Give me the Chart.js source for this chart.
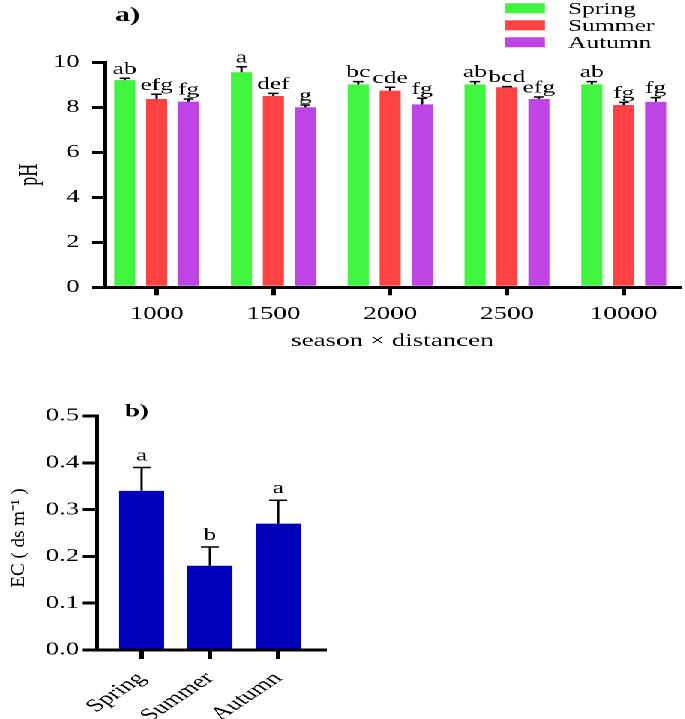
<!DOCTYPE html>
<html>
<head>
<meta charset="utf-8">
<script src="https://cdn.jsdelivr.net/npm/chart.js@4.4.1/dist/chart.umd.min.js"></script>
<style>
html, body { margin: 0; padding: 0; background: #fff; overflow: hidden; }
/* the reference is stretched sideways, so draw narrow and widen it */
#wrap { position: absolute; left: 0; top: 0; width: 457px; height: 719px; transform: scaleX(1.5); transform-origin: 0 0; }
#c1 { position: absolute; left: 0; top: 0; }
#c2 { position: absolute; left: 0; top: 360px; }
</style>
</head>
<body>
<div id="wrap">
  <canvas id="c1" width="457" height="360"></canvas>
  <canvas id="c2" width="230" height="359"></canvas>
</div>
<script>
const STRETCH = 1.5;

// a) pH by season x distance
const distances = ['1000', '1500', '2000', '2500', '10000'];
const phSpring = [9.21, 9.56, 9.02, 9.02, 9.02];
const phSpringErr = [0.08, 0.24, 0.12, 0.12, 0.12];
const phSpringLetters = ['ab', 'a', 'bc', 'ab', 'ab'];
const phSummer = [8.37, 8.50, 8.74, 8.89, 8.10];
const phSummerErr = [0.21, 0.12, 0.15, 0.03, 0.12];
const phSummerLetters = ['efg', 'def', 'cde', 'bcd', 'fg'];
const phAutumn = [8.25, 8.00, 8.13, 8.37, 8.24];
const phAutumnErr = [0.12, 0.10, 0.27, 0.09, 0.19];
const phAutumnLetters = ['fg', 'g', 'fg', 'efg', 'fg'];

// b) EC by season
const seasons = ['Spring', 'Summer', 'Autumn'];
const ecValues = [0.34, 0.18, 0.27];
const ecErr = [0.05, 0.04, 0.05];
const ecLetters = ['a', 'b', 'a'];

const GREEN = '#40f440', RED = '#ff4242', PURPLE = '#bf44e6', BLUE = '#0202bb';
const SERIF = '"Liberation Serif", "Times New Roman", serif';

Chart.defaults.font.family = SERIF;
Chart.defaults.color = '#000';

const errorBars = {
  id: 'errorBars',
  afterDatasetsDraw(chart, args, opts) {
    const ctx = chart.ctx, y = chart.scales.y;
    ctx.save();
    chart.data.datasets.forEach((ds, di) => {
      chart.getDatasetMeta(di).data.forEach((bar, i) => {
        const top = y.getPixelForValue(ds.data[i].y + ds.errors[i]);
        ctx.strokeStyle = '#000';
        ctx.lineWidth = opts.width;
        ctx.beginPath();
        ctx.moveTo(bar.x, bar.y); ctx.lineTo(bar.x, top);
        ctx.moveTo(bar.x - opts.cap, top); ctx.lineTo(bar.x + opts.cap, top);
        ctx.stroke();
        ctx.fillStyle = '#000';
        ctx.font = opts.font;
        ctx.textAlign = 'center';
        ctx.textBaseline = 'alphabetic';
        ctx.fillText(ds.letters[i], bar.x, top - opts.gap);
      });
    });
    ctx.restore();
  }
};

const extras = {
  id: 'extras',
  afterDraw(chart, args, opts) {
    const ctx = chart.ctx;
    ctx.fillStyle = '#000';
    (opts.texts || []).forEach(t => {
      ctx.save();
      ctx.font = t.font;
      ctx.textBaseline = t.baseline || 'middle';
      ctx.textAlign = t.align || 'left';
      ctx.translate(t.x, t.y);
      if (t.unstretch) ctx.scale(1 / STRETCH, 1);
      if (t.rot) ctx.rotate(t.rot);
      ctx.fillText(t.text, 0, 0);
      ctx.restore();
    });
    if (opts.legend) {
      const L = opts.legend;
      ctx.save();
      ctx.textBaseline = 'middle';
      ctx.textAlign = 'left';
      chart.data.datasets.forEach((ds, i) => {
        const cy = L.y + i * L.step;
        ctx.fillStyle = ds.backgroundColor;
        ctx.fillRect(L.x, cy - L.boxH / 2, L.boxW, L.boxH);
        ctx.fillStyle = '#000';
        ctx.font = L.font;
        ctx.fillText(ds.label, L.x + L.boxW + L.gap, cy + 1);
      });
      ctx.restore();
    }
  }
};

const axisStyle = (tickLength) => ({
  grid: { offset: false, drawOnChartArea: false, drawTicks: true, tickLength: tickLength, color: '#000', lineWidth: 3 },
  border: { color: '#000', width: 3 }
});

const pts = (arr) => arr.map((v, i) => ({ x: i, y: v }));

new Chart(document.getElementById('c1'), {
  type: 'bar',
  data: {
    datasets: [
      { label: 'Spring', data: pts(phSpring), errors: phSpringErr, letters: phSpringLetters, backgroundColor: GREEN },
      { label: 'Summer', data: pts(phSummer), errors: phSummerErr, letters: phSummerLetters, backgroundColor: RED },
      { label: 'Autumn', data: pts(phAutumn), errors: phAutumnErr, letters: phAutumnLetters, backgroundColor: PURPLE }
    ]
  },
  options: {
    responsive: false,
    animation: false,
    devicePixelRatio: 2,
    layout: { padding: { left: 0, right: 3.7, top: 62.3, bottom: 0 } },
    categoryPercentage: 0.82,
    barPercentage: 0.66,
    plugins: {
      legend: { display: false },
      tooltip: { enabled: false },
      errorBars: { width: 1.5, cap: 3.4, gap: 4.5, font: '17px ' + SERIF },
      extras: {
        texts: [{ text: 'a)', x: 76.7, y: 16, font: 'bold 20px ' + SERIF }],
        legend: { x: 336.7, y: 8.3, step: 17, boxW: 26.7, boxH: 10, gap: 15.3, font: '17px ' + SERIF }
      }
    },
    scales: {
      x: {
        type: 'linear',
        offset: false,
        min: -0.443,
        max: 4.48,
        afterBuildTicks: s => { s.ticks = distances.map((d, i) => ({ value: i })); },
        afterFit: s => { s.height = 72.7; },
        ticks: { font: { size: 18 }, padding: 8, maxRotation: 0, callback: v => distances[v] },
        title: { display: true, text: 'season × distancen', font: { size: 18 }, padding: { top: 0, bottom: 8 } },
        ...axisStyle(8)
      },
      y: {
        min: 0,
        max: 10,
        afterFit: s => { s.width = 70; },
        ticks: { stepSize: 2, font: { size: 18 }, padding: 8 },
        title: { display: true, text: 'pH', font: { size: 18 }, padding: { top: 9, bottom: 0 } },
        ...axisStyle(9)
      }
    }
  },
  plugins: [errorBars, extras]
});

new Chart(document.getElementById('c2'), {
  type: 'bar',
  data: {
    datasets: [
      { label: 'EC', data: pts(ecValues), errors: ecErr, letters: ecLetters, backgroundColor: BLUE }
    ]
  },
  options: {
    responsive: false,
    animation: false,
    devicePixelRatio: 2,
    layout: { padding: { left: 0, right: 13.3, top: 56, bottom: 0 } },
    categoryPercentage: 1,
    barPercentage: 0.66,
    plugins: {
      legend: { display: false },
      tooltip: { enabled: false },
      errorBars: { width: 1.5, cap: 6, gap: 7, font: '17px ' + SERIF },
      extras: {
        texts: [
          { text: 'b)', x: 83.3, y: 52, font: 'bold 18px ' + SERIF },
          // this title is not widened in the reference
          { text: 'EC ( ds m⁻¹ )', x: 16, y: 178, rot: -Math.PI / 2, unstretch: true, align: 'center', baseline: 'alphabetic', font: '19px ' + SERIF }
        ]
      }
    },
    scales: {
      x: {
        type: 'linear',
        offset: false,
        min: -0.654,
        max: 2.684,
        afterBuildTicks: s => { s.ticks = seasons.map((d, i) => ({ value: i })); },
        afterFit: s => { s.height = 69; },
        ticks: { font: { size: 18 }, padding: 9, minRotation: 45, maxRotation: 45, callback: v => seasons[v] },
        ...axisStyle(9)
      },
      y: {
        min: 0,
        max: 0.5,
        afterFit: s => { s.width = 64.7; },
        ticks: { stepSize: 0.1, font: { size: 18 }, padding: 2, callback: v => v.toFixed(1) },
        ...axisStyle(10)
      }
    }
  },
  plugins: [errorBars, extras]
});
</script>
</body>
</html>
